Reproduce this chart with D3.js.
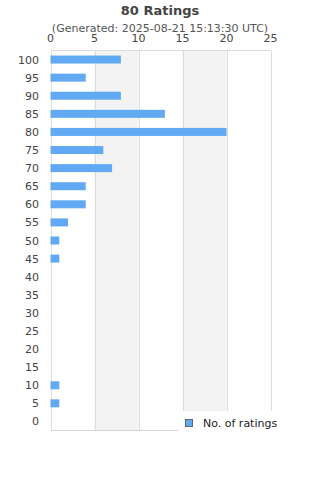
<!DOCTYPE html>
<meta charset="utf-8">
<title>80 Ratings</title>
<style>
    body { margin: 0; background: #fff; font-family: "DejaVu Sans", sans-serif; }
</style>
<body>
<script src="https://cdn.jsdelivr.net/npm/d3@7"></script>
<script>

    // rating buckets, top to bottom
    var categories = ["100", "95", "90", "85", "80", "75", "70", "65", "60", "55", "50",
        "45", "40", "35", "30", "25", "20", "15", "10", "5", "0"];
    var counts = [8, 4, 8, 13, 20, 6, 7, 4, 4, 2, 1, 1, 0, 0, 0, 0, 0, 0, 1, 1, 0];
    var xTicks = [0, 5, 10, 15, 20, 25];
    var seriesName = "No. of ratings";

    var width = 320, height = 480;
    var plotL = 50.5, plotR = 270.5, plotT = 50.5, plotB = 430.5;

    var svg = d3.select("body").append("svg")
        .attr("width", width)
        .attr("height", height);

    var x = d3.scaleLinear().domain([0, 25]).range([plotL, plotR]);
    var y = d3.scaleBand().domain(categories).range([plotT, plotB]);

    // alternating bands
    svg.selectAll("rect.band")
        .data(d3.pairs(xTicks).filter(function(d, i) { return i % 2 == 1; }))
        .enter().append("rect")
        .attr("x", function(d) { return x(d[0]); })
        .attr("y", plotT)
        .attr("width", function(d) { return x(d[1]) - x(d[0]); })
        .attr("height", plotB - plotT)
        .attr("fill", "#f3f3f3");

    // grid lines
    svg.selectAll("line.grid")
        .data(xTicks)
        .enter().append("line")
        .attr("x1", function(d) { return Math.round(x(d)) + 0.5; })
        .attr("x2", function(d) { return Math.round(x(d)) + 0.5; })
        .attr("y1", plotT)
        .attr("y2", plotB)
        .attr("stroke", "#dcdcdc");

    svg.append("line")
        .attr("x1", plotL).attr("x2", plotR)
        .attr("y1", plotT).attr("y2", plotT)
        .attr("stroke", "#dcdcdc");

    svg.append("line")
        .attr("x1", plotL).attr("x2", plotR)
        .attr("y1", plotB).attr("y2", plotB)
        .attr("stroke", "#d6d6d6");

    // bars
    svg.selectAll("rect.bar")
        .data(counts)
        .enter().append("rect")
        .attr("x", x(0))
        .attr("y", function(d, i) { return y(categories[i]) + y.bandwidth() / 2 - 4; })
        .attr("width", function(d) { return x(d) - x(0); })
        .attr("height", 8)
        .attr("fill", "#62a9f3");

    // top axis labels
    svg.selectAll("text.xt")
        .data(xTicks)
        .enter().append("text")
        .attr("x", function(d) { return x(d); })
        .attr("y", 42)
        .attr("text-anchor", "middle")
        .attr("font-size", 11)
        .attr("fill", "#444")
        .text(function(d) { return d; });

    // category labels
    svg.selectAll("text.yt")
        .data(categories)
        .enter().append("text")
        .attr("x", 39)
        .attr("y", function(d) { return y(d) + y.bandwidth() / 2 + 4; })
        .attr("text-anchor", "end")
        .attr("font-size", 11)
        .attr("fill", "#444")
        .text(function(d) { return d; });

    // titles
    svg.append("text")
        .attr("x", 160).attr("y", 15)
        .attr("text-anchor", "middle")
        .attr("font-size", 13)
        .attr("font-weight", "bold")
        .attr("fill", "#444")
        .text("80 Ratings");

    svg.append("text")
        .attr("x", 160).attr("y", 32)
        .attr("text-anchor", "middle")
        .attr("font-size", 11)
        .attr("fill", "#555")
        .text("(Generated: 2025-08-21 15:13:30 UTC)");

    // legend
    var lg = svg.append("g").attr("transform", "translate(178,411)");
    lg.append("rect")
        .attr("width", 142).attr("height", 25)
        .attr("fill", "#fff");
    lg.append("rect")
        .attr("x", 7.5).attr("y", 8.5)
        .attr("width", 7).attr("height", 7)
        .attr("fill", "#62a9f3")
        .attr("stroke", "#666");
    lg.append("text")
        .attr("x", 25).attr("y", 15.5)
        .attr("font-size", 11)
        .attr("fill", "#222")
        .text(seriesName);

</script>
</body>
